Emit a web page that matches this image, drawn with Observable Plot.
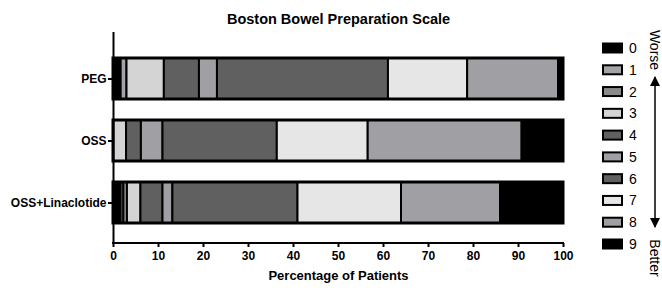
<!DOCTYPE html>
<html>
<head>
<meta charset="utf-8">
<script src="https://cdn.jsdelivr.net/npm/d3@7"></script>
<script src="https://cdn.jsdelivr.net/npm/@observablehq/plot@0.6"></script>
<style>
  html, body { margin: 0; padding: 0; background: #fff; }
  #chart svg { display: block; font-family: "Liberation Sans", Arial, sans-serif; }
</style>
</head>
<body>
<div id="chart"></div>
<script>
// Boston Bowel Preparation Scale: share of patients at each total score, per regimen
const groups = ["PEG", "OSS", "OSS+Linaclotide"];
const scores = [0, 1, 2, 3, 4, 5, 6, 7, 8, 9];
const pegValues = [1.7, 1.3, 0, 8.3, 7.8, 4.0, 38.0, 17.6, 20.2, 1.1];
const ossValues = [0, 0, 0, 2.9, 3.3, 4.8, 25.4, 20.2, 34.2, 9.2];
const linaclotideValues = [1.7, 0.6, 0.8, 3.0, 4.9, 2.2, 27.8, 23.0, 22.0, 14.0];
const scoreColors = ["#000000", "#a4a4a8", "#8a8a8c", "#d4d4d4", "#606060", "#a09fa3", "#606060", "#e6e6e6", "#a09fa3", "#000000"];
const xTicks = [0, 10, 20, 30, 40, 50, 60, 70, 80, 90, 100];

const seriesByGroup = [pegValues, ossValues, linaclotideValues];
const rows = [];
groups.forEach((g, i) => {
  scores.forEach((s, j) => {
    const v = seriesByGroup[i][j];
    if (v > 0) rows.push({group: g, score: s, value: v});
  });
});
const totals = groups.map((g, i) => ({group: g, value: d3.sum(seriesByGroup[i])}));

const W = 662, H = 290;
const mTop = 32, mBottom = 47, mLeft = 113, mRight = 99;
const font = "'Liberation Sans', Arial, sans-serif";

const chart = Plot.plot({
  width: W,
  height: H,
  marginTop: mTop,
  marginBottom: mBottom,
  marginLeft: mLeft,
  marginRight: mRight,
  style: {fontFamily: font, background: "#fff", color: "#000"},
  x: {domain: [0, 100], ticks: xTicks},
  y: {domain: groups, range: [57.5, 222.5], paddingInner: 0.34, paddingOuter: 0, label: null},
  color: {type: "ordinal", domain: scores, range: scoreColors},
  marks: [
    Plot.barX(rows, Plot.stackX({
      x: "value", y: "group", fill: "score", order: "score",
      stroke: "#000", strokeWidth: 2
    })),
    Plot.barX(totals, {x: "value", y: "group", fill: "none", stroke: "#000", strokeWidth: 3}),
    Plot.ruleX([0], {stroke: "#000", strokeWidth: 2}),
    Plot.axisX({
      ticks: xTicks, tickSize: 4, tickPadding: 4, strokeWidth: 2,
      fontSize: 12, fontWeight: "bold", label: null
    }),
    Plot.axisY({
      tickSize: 5, tickPadding: 2, strokeWidth: 2,
      fontSize: 12, fontWeight: "bold", label: null
    }),
    Plot.text(["Boston Bowel Preparation Scale"], {
      text: d => d, frameAnchor: "top", dy: -19,
      fontSize: 14.5, fontWeight: "bold"
    }),
    Plot.text(["Percentage of Patients"], {
      text: d => d, frameAnchor: "bottom", dy: 36,
      fontSize: 13, fontWeight: "bold"
    })
  ]
});

const svg = d3.select(chart);
const xs = chart.scale("x");
const colorScale = chart.scale("color");

// x axis baseline
svg.append("line")
  .attr("x1", xs.apply(0) - 1).attr("x2", xs.apply(100) + 1)
  .attr("y1", H - mBottom).attr("y2", H - mBottom)
  .attr("stroke", "#000").attr("stroke-width", 2);

// score legend
const legend = svg.append("g").attr("font-family", font);
const rowY = d3.scaleLinear().domain([0, 9]).range([48, 244]);
scores.forEach(s => {
  const y = rowY(s);
  legend.append("rect")
    .attr("x", 603).attr("y", y - 4.5).attr("width", 19).attr("height", 9)
    .attr("fill", colorScale.apply(s)).attr("stroke", "#000").attr("stroke-width", 2);
  legend.append("text")
    .attr("x", 633).attr("y", y).attr("dy", "0.36em")
    .attr("font-size", 14).text(String(s));
});

// Worse / Better direction arrow
const defs = svg.append("defs");
defs.append("marker")
  .attr("id", "arrowhead").attr("viewBox", "0 0 10 10")
  .attr("refX", 9).attr("refY", 5)
  .attr("markerWidth", 7).attr("markerHeight", 7)
  .attr("orient", "auto-start-reverse")
  .append("path").attr("d", "M0,0 L10,5 L0,10 z").attr("fill", "#000");
legend.append("line")
  .attr("x1", 655).attr("x2", 655).attr("y1", 77).attr("y2", 227)
  .attr("stroke", "#000").attr("stroke-width", 1.5)
  .attr("marker-start", "url(#arrowhead)").attr("marker-end", "url(#arrowhead)");
legend.append("text")
  .attr("transform", "translate(655,50) rotate(90)")
  .attr("text-anchor", "middle").attr("dy", "0.35em")
  .attr("font-size", 14).text("Worse");
legend.append("text")
  .attr("transform", "translate(655,258) rotate(90)")
  .attr("text-anchor", "middle").attr("dy", "0.35em")
  .attr("font-size", 14).text("Better");

document.getElementById("chart").append(chart);
</script>
</body>
</html>
